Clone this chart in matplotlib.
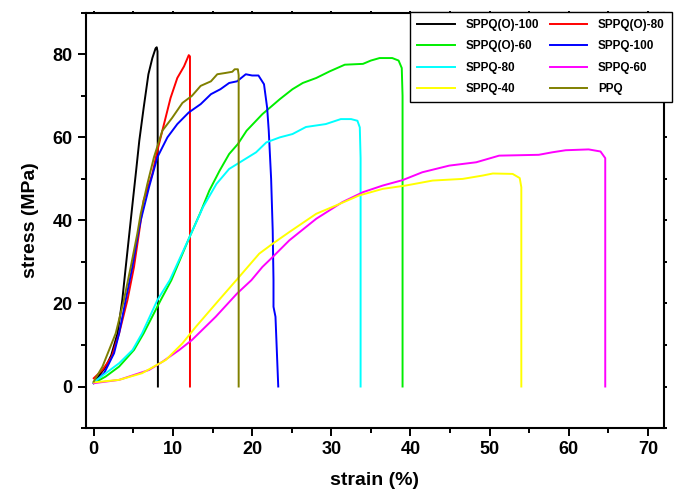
import matplotlib
matplotlib.use('Agg')
import matplotlib.pyplot as plt
from matplotlib.ticker import MultipleLocator

plt.rcParams['font.family'] = ['Liberation Sans', 'DejaVu Sans']
plt.rcParams['font.weight'] = 'bold'

# stress-strain curves, strain in %, stress in MPa
labels = ['SPPQ(O)-100', 'SPPQ(O)-80', 'SPPQ(O)-60', 'SPPQ-100',
          'SPPQ-80', 'SPPQ-60', 'SPPQ-40', 'PPQ']
colors = ['black', 'red', '#00ee00', 'blue', 'cyan', 'magenta', 'yellow', '#808000']

strain_o100 = [0, 0.25, 1.5, 2.2, 3.0, 3.6, 4.04, 4.5, 4.95, 5.35, 5.75, 6.3, 6.9, 7.4,
               7.8, 7.95, 8.05, 8.1, 8.1]
stress_o100 = [0.9, 1.6, 4.7, 7.5, 12.8, 20.8, 28.8, 37, 45, 52, 59.2, 67.1, 75.2, 79.1,
               81.4, 81.7, 80.7, 40, 0]

strain_o80 = [0, 1.1, 2.27, 3.2, 4.25, 5.08, 5.7, 6.3, 7.4, 8.03, 8.87, 9.7, 10.55, 11.4,
              12.0, 12.15, 12.15]
stress_o80 = [2.0, 4.0, 7.2, 12.8, 20.8, 28.8, 36.8, 44.8, 51.2, 56.8, 63.2, 69.5, 74.3, 77.1,
              79.8, 79.5, 0]

strain_o60 = [0, 1.5, 3.2, 5.08, 6.3, 8.45, 9.8, 12.1, 13.4, 14.6, 15.9, 17.1, 18.2, 19.3,
              21.3, 23.5, 25.1, 26.4, 28.1, 29.8, 31.7, 34.0, 35.0, 36.1, 37.7, 38.5, 38.9,
              39.0, 39.0]
stress_o60 = [0.8, 2.4, 4.8, 8.8, 12.8, 20.8, 25.6, 36, 41.6, 47.2, 52, 56, 58.4, 61.6,
              65.6, 69.2, 71.6, 73.1, 74.3, 75.9, 77.5, 77.7, 78.5, 79.1, 79.1, 78.5, 76.7,
              70, 0]

strain_100 = [0, 1.3, 2.56, 3.2, 4.03, 4.88, 5.6, 5.93, 6.56, 6.98, 8.03, 9.3, 10.55, 12.0,
              13.5, 14.8, 16.0, 17.1, 18.1, 19.2, 20.0, 20.8, 21.5, 21.9, 22.1, 22.4, 22.6,
              22.7, 22.7, 22.95, 23.3]
stress_100 = [0.8, 3.2, 8.0, 12.8, 20.8, 28.8, 36.8, 40, 44.8, 48, 55.2, 60, 63.2, 66,
              68, 70.4, 71.6, 73.1, 73.5, 75.2, 74.9, 74.9, 72.8, 67.1, 61.6, 50, 37.6,
              25.6, 19.2, 16.8, 0]

strain_80 = [0, 1.5, 3.2, 4.9, 6.1, 8.03, 9.6, 12.1, 13.8, 15.5, 17.1, 18.8, 20.5, 21.8,
             23.5, 25.1, 26.8, 29.3, 31.2, 32.5, 33.3, 33.6, 33.7, 33.7]
stress_80 = [1.0, 3.2, 5.6, 8.8, 12.8, 20.8, 25.6, 36, 43.2, 48.8, 52.4, 54.4, 56.4, 58.8,
             60, 60.8, 62.5, 63.2, 64.4, 64.4, 64, 62.4, 55, 0]

strain_60 = [0, 3.2, 7.0, 8.7, 10.8, 12.4, 15.4, 18.1, 19.9, 21.3, 22.6, 24.7, 28.1, 31.4,
             34.0, 36.5, 39.0, 41.5, 44.9, 48.3, 51.2, 56.2, 57.9, 59.6, 62.5, 64.0, 64.6, 64.6]
stress_60 = [0.8, 1.6, 4.0, 6.0, 8.8, 11.2, 16.8, 22.4, 25.6, 28.8, 31.2, 35.2, 40.4, 44.4,
             46.8, 48.4, 49.7, 51.6, 53.2, 54, 55.6, 55.8, 56.4, 56.9, 57.1, 56.6, 55, 0]

strain_40 = [0, 3.2, 6.1, 9.1, 11.2, 12.9, 15.8, 18.0, 20.9, 22.6, 24.7, 28.1, 30.6, 33.5,
             36.5, 39.4, 42.8, 46.6, 49.1, 50.4, 52.9, 53.8, 54.0, 54.0]
stress_40 = [1.0, 1.6, 3.2, 6.4, 10.4, 14.4, 20.8, 25.6, 32, 34.4, 37.2, 41.6, 43.6, 46,
             47.6, 48.4, 49.6, 50, 50.8, 51.3, 51.2, 50.2, 48, 0]

strain_ppq = [0, 1.1, 2.77, 3.8, 4.67, 5.5, 5.93, 6.77, 7.6, 8.66, 9.9, 11.2, 12.4, 13.5,
              14.8, 15.6, 16.6, 17.5, 17.8, 18.2, 18.3, 18.3]
stress_ppq = [1.2, 4.8, 12.8, 20.8, 28.8, 36.8, 41.6, 48.8, 55.2, 61.6, 64.7, 68.3, 70, 72.4,
              73.5, 75.2, 75.5, 75.8, 76.4, 76.4, 75, 0]

curves = [(strain_o100, stress_o100), (strain_o80, stress_o80), (strain_o60, stress_o60),
          (strain_100, stress_100), (strain_80, stress_80), (strain_60, stress_60),
          (strain_40, stress_40), (strain_ppq, stress_ppq)]

fig = plt.figure(figsize=(6.76, 4.92), dpi=100)
ax = fig.add_axes([0.127, 0.130, 0.855, 0.844])

lines = {}
for lab, col, (x, y) in zip(labels, colors, curves):
    lines[lab], = ax.plot(x, y, color=col, lw=1.4)

ax.set_xlim(-1, 72)
ax.set_ylim(-10, 90)
ax.xaxis.set_major_locator(MultipleLocator(10))
ax.xaxis.set_minor_locator(MultipleLocator(5))
ax.yaxis.set_major_locator(MultipleLocator(20))
ax.yaxis.set_minor_locator(MultipleLocator(10))

for s in ax.spines.values():
    s.set_linewidth(1.5)

ax.tick_params(which='major', direction='out', length=6, width=1.4, labelsize=13)
ax.tick_params(which='minor', direction='out', length=3.5, width=1.4)
ax.tick_params(top=True, right=True, which='both')
for t in ax.xaxis.get_major_ticks() + ax.xaxis.get_minor_ticks():
    t.tick2line.set_markersize(1.5)
    t.tick2line.set_color('#888888')
for t in ax.yaxis.get_major_ticks() + ax.yaxis.get_minor_ticks():
    t.tick2line.set_markersize(2)

ax.set_xlabel('strain (%)', fontsize=14, fontweight='bold', labelpad=10)
ax.set_ylabel('stress (MPa)', fontsize=14, fontweight='bold', labelpad=10)

# legend: two columns, first column holds the (O) series
order = ['SPPQ(O)-100', 'SPPQ(O)-60', 'SPPQ-80', 'SPPQ-40',
         'SPPQ(O)-80', 'SPPQ-100', 'SPPQ-60', 'PPQ']
leg = ax.legend([lines[k] for k in order], order, ncol=2, loc='upper right',
                bbox_to_anchor=(0.994, 0.976), bbox_transform=fig.transFigure,
                borderaxespad=0, fancybox=False, framealpha=1, edgecolor='black',
                prop={'size': 8.5, 'weight': 'bold'}, handlelength=3.2,
                handletextpad=0.9, columnspacing=0.9, labelspacing=0.8,
                borderpad=0.6)
leg.get_frame().set_linewidth(1.0)

fig.savefig('out.png', dpi=100)
